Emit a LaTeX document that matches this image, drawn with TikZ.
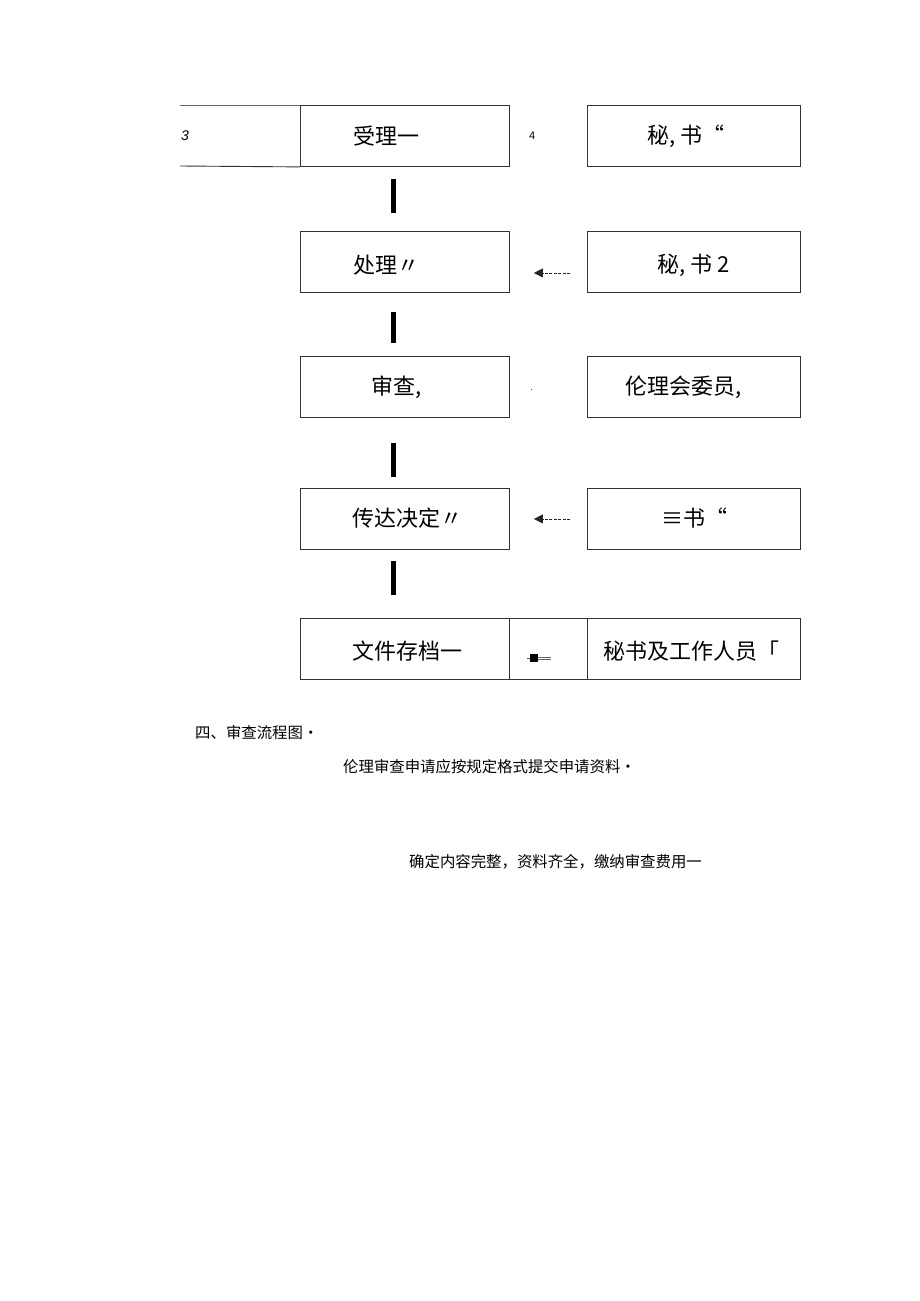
\documentclass[tikz,border=0pt]{standalone}
\usepackage{fontspec}
\setmainfont{Liberation Sans}
\newfontfamily\cjk{Noto Sans CJK SC}
\usetikzlibrary{positioning,arrows.meta}

\begin{document}
\begin{tikzpicture}[x=1pt, y=-1pt,
    box/.style={draw=black!80, line width=0.9pt, inner sep=0pt, anchor=north west,
        minimum width=209pt, minimum height=61pt},
    rbox/.style={box, minimum width=213pt},
    lbl/.style={anchor=west, inner sep=0pt, font=\cjk\fontsize{22}{22}\selectfont},
    note/.style={anchor=west, inner sep=0pt, font=\cjk\fontsize{15.4}{15.4}\selectfont},
    bar/.style={line width=5pt},
    dsh/.style={draw=black!85, line width=0.8pt, dash pattern=on 3pt off 1.4pt,
        -{Triangle[length=9pt, width=9pt, sep=4pt]}}]
    \useasboundingbox[fill=white] (0,0) rectangle (920,1301);

    % left column
    \node[box] (recv) at (300,105) {};
    \node[box] (proc) at (300,231) {};
    \node[box] (rev)  at (300,356) {};
    \node[box] (dec)  at (300,488) {};
    \node[box] (arch) at (300,618) {};

    % right column
    \node[rbox] (sec1)  at (587,105) {};
    \node[rbox] (sec2)  at (587,231) {};
    \node[rbox] (cmte)  at (587,356) {};
    \node[rbox] (sec3)  at (587,488) {};
    \node[box, minimum width=78pt] (mid) at (509,618) {};
    \node[rbox] (staff) at (587,618) {};

    % open frame left of the first box
    \draw[black!60, line width=0.9pt] (180,105) -- (recv.north west);
    \draw[black!80, line width=0.9pt] (180,166) -- (recv.south west);

    % texts in boxes
    \node[lbl] (t1) at (353,136) {受理一};
    \node[lbl] (t2) at (353,265) {处理〃};
    \node[lbl] (t3) at (371,387) {审查,};
    \node[lbl] (t4) at (352,518) {传达决定〃};
    \node[lbl] (t5) at (352,651) {文件存档一};
    \node[lbl] (s1) at (647,136) {秘, 书“};
    \node[lbl] (s2) at (657,265) {秘, 书 2};
    \node[lbl] (s3) at (625,387) {伦理会委员,};
    \node[lbl] (s4) at (661,518) {≡书“};
    \node[lbl] (s5) at (603,651) {秘书及工作人员「};

    % small numbers
    \node[anchor=west, inner sep=0pt, font=\fontsize{14}{14}\selectfont\itshape] (n3) at (181,136) {3};
    \node[anchor=west, inner sep=0pt, font=\fontsize{11}{11}\selectfont] (n4) at (529,136) {4};

    % thick bars between steps
    \draw[bar] ([xshift=-11.5pt, yshift=-12pt]recv.south) -- ([xshift=-11.5pt, yshift=18pt]proc.north);
    \draw[bar] ([xshift=-11.5pt, yshift=-19pt]proc.south) -- ([xshift=-11.5pt, yshift=13pt]rev.north);
    \draw[bar] ([xshift=-11.5pt, yshift=-25pt]rev.south)  -- ([xshift=-11.5pt, yshift=11pt]dec.north);
    \draw[bar] ([xshift=-11.5pt, yshift=-11pt]dec.south)  -- ([xshift=-11.5pt, yshift=23pt]arch.north);

    % dashed arrows
    \draw[dsh] ([xshift=-17pt, yshift=-11pt]sec2.west) -- ([xshift=20pt, yshift=-11pt]proc.east);
    \draw[dsh] ([xshift=-17pt]sec3.west) -- ([xshift=20pt]dec.east);
    \fill[black!70] ([xshift=21pt, yshift=-2pt]rev.east) rectangle +(1.5,1.5);

    % square mark in the last row
    \node[fill=black, minimum size=8pt, inner sep=0pt] (sq) at (534,658) {};
    \draw[black!70, line width=0.6pt] (sq.west) -- +(-3,0);
    \draw[black!60, line width=0.5pt] ([yshift=1pt]sq.east) -- +(13,0);
    \draw[black!60, line width=0.5pt] ([yshift=-1.5pt]sq.east) -- +(13,0);

    % notes below
    \node[note] (h4) at (195,733) {四、审查流程图·};
    \node[note] (a1) at (343,767) {伦理审查申请应按规定格式提交申请资料·};
    \node[note] (a2) at (409,862) {确定内容完整，资料齐全，缴纳审查费用一};
\end{tikzpicture}
\end{document}
